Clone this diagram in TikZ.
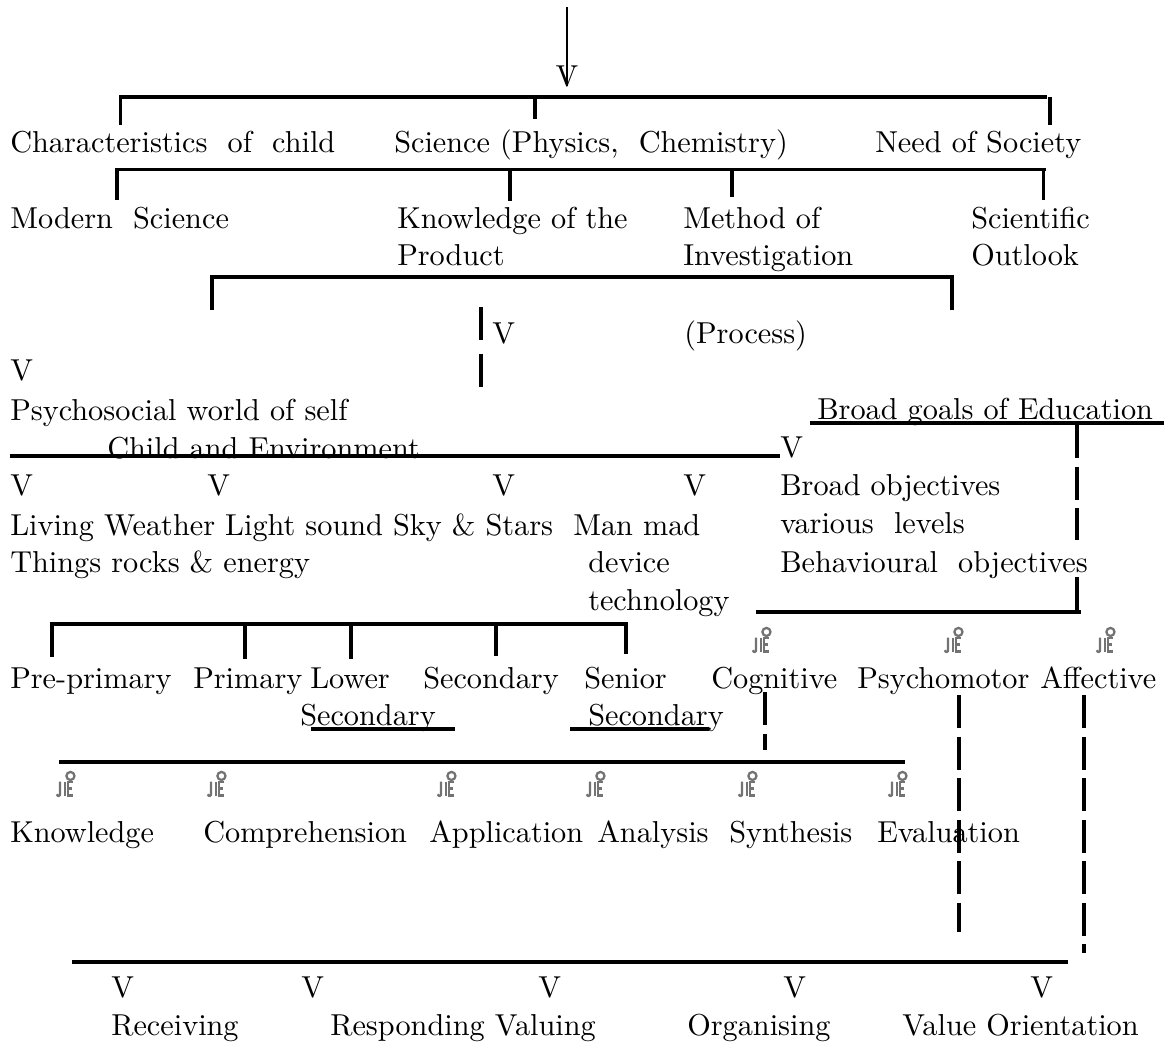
\documentclass[tikz,border=0pt]{standalone}
\usepackage{fontspec}
\setmainfont{lmroman10-regular.otf}
\begin{document}
\begin{tikzpicture}[x=0.75pt,y=-0.75pt,
  t/.style={anchor=base west, inner sep=0pt, font=\fontsize{22.7}{27}\selectfont},
  ln/.style={line width=2.4pt},
  dsh/.style={line width=2.4pt, dash pattern=on 24.75pt off 6.4pt},
  pics/gicon/.style={code={
    \begin{scope}[draw=black!55, line width=1.7pt, scale=1.15]
      \draw (-6,-2) -- (-6,8) .. controls (-6,11) and (-8,11) .. (-9,9);
      \draw (-2,-2) -- (-2,10);
      \draw (5,-2) -- (1,-2) -- (1,10) -- (5,10);
      \draw (1,4) -- (4,4);
      \draw (3,-7) circle (3.5);
    \end{scope}}}]
\fill[white] (0,0) rectangle (1164,1042);
\useasboundingbox (0,0) rectangle (1164,1042);

% top arrow
\node[t,anchor=base] (topV) at (567,86) {V};
\coordinate (topS) at (567,7);
\draw[line width=1.7pt] (topS) -- (topV.base);

% row 1
\node[t] (chr) at (10,152) {Characteristics\ \ of\ \ child};
\node[t] (sci) at (394,152) {Science (Physics,\ \ Chemistry)};
\node[t] (need) at (875,152) {Need of Society};
\draw[ln] (120.5,125) -- (120.5,97) -- (1047,97);
\draw[ln] (535,97) -- (535,119);
\draw[ln] (1050,97) -- (1050,125);

% row 2
\node[t] (mod) at (10,228) {Modern\ \ Science};
\node[t] (kn1) at (397,228) {Knowledge of the};
\node[t] (kn2) at (397,265) {Product};
\node[t] (me1) at (683,228) {Method of};
\node[t] (me2) at (683,265) {Investigation};
\node[t] (so1) at (971,228) {Scientific};
\node[t] (so2) at (971,265) {Outlook};
\draw[ln] (117,200) -- (117,169.5) -- (1046,169.5);
\draw[ln] (510,169.5) -- (510,201);
\draw[ln] (732,169.5) -- (732,197);
\draw[ln] (1043.5,169.5) -- (1043.5,200);

% bracket 3
\draw[ln] (212,310) -- (212,277) -- (952,277) -- (952,310);
\draw[ln] (481,307) -- (481,340);
\draw[ln] (481,354) -- (481,387);
\node[t] (vmid) at (492,343) {V};
\node[t] (proc) at (684,343) {(Process)};

\node[t] (vleft) at (10,380) {V};
\node[t] (psy) at (10,420) {Psychosocial world of self};
\node[t] (bg) at (817,419) {Broad goals of Education};
\node[t] (chenv) at (107,458) {Child and Environment};
\node[t] (vbo) at (780,457) {V};
\coordinate (cel) at (10,456);
\draw[ln] (cel) -- (cel -| vbo.west);
\draw[ln] (810,423) -- (1164,423);

\node[t] (v1) at (10,495) {V};
\node[t] (v2) at (207,495) {V};
\node[t] (v3) at (492,495) {V};
\node[t] (v4) at (683,495) {V};
\node[t] (bo1) at (780,495) {Broad objectives};
\node[t] (bo2) at (780,533) {various\ \ levels};
\node[t] (bo3) at (780,572) {Behavioural\ \ objectives};

\node[t] (liv) at (10,535) {Living Weather Light sound Sky \& Stars};
\node[t] (man1) at (573,535) {Man mad};
\node[t] (thg) at (10,572) {Things rocks \& energy};
\node[t] (man2) at (588,572) {device};
\node[t] (man3) at (588,610) {technology};

\draw[dsh] (1077,425) -- (1077,540);
\draw[ln] (1077,577) -- (1077,612);
\draw[ln] (756,612) -- (1081,612);

% bracket 4
\draw[ln] (52,657) -- (52,624) -- (626,624) -- (626,654);
\draw[ln] (245,624) -- (245,659);
\draw[ln] (351,624) -- (351,659);
\draw[ln] (496,624) -- (496,656);

\pic at (763,640) {gicon};
\pic at (955,640) {gicon};
\pic at (1107,640) {gicon};

\node[t] (pre) at (10,688) {Pre-primary};
\node[t] (pri) at (193,688) {Primary};
\node[t] (low) at (310,688) {Lower};
\node[t] (sec) at (423,688) {Secondary};
\node[t] (sen) at (584,688) {Senior};
\node[t] (cog) at (711,688) {Cognitive};
\node[t] (psm) at (857,688) {Psychomotor};
\node[t] (aff) at (1040,688) {Affective};
\node[t] (lsec) at (300,725) {Secondary};
\node[t] (ssec) at (588,725) {Secondary};
\draw[ln] (311,729) -- (455,729);
\draw[ln] (570,729) -- (709,729);

\draw[dsh] (765,692) -- (765,750);
\draw[dsh] (959,695) -- (959,932);
\draw[dsh] (1084,695) -- (1084,953);

% bracket 5
\draw[ln] (59,762) -- (905,762);
\pic at (67,784) {gicon};
\pic at (218,784) {gicon};
\pic at (448,784) {gicon};
\pic at (597,784) {gicon};
\pic at (749,784) {gicon};
\pic at (899,784) {gicon};

\node[t] (kno) at (10,842) {Knowledge};
\node[t] (com) at (203,842) {Comprehension};
\node[t] (app) at (429,842) {Application};
\node[t] (ana) at (597,842) {Analysis};
\node[t] (syn) at (729,842) {Synthesis};
\node[t] (eva) at (877,842) {Evaluation};

% bottom
\draw[ln] (72,962) -- (1068,962);
\node[t] (b1) at (111,997) {V};
\node[t] (b2) at (301,997) {V};
\node[t] (b3) at (538,997) {V};
\node[t] (b4) at (783,997) {V};
\node[t] (b5) at (1030,997) {V};
\node[t] (rec) at (111,1035) {Receiving};
\node[t] (res) at (330,1035) {Responding Valuing};
\node[t] (org) at (687,1035) {Organising};
\node[t] (vor) at (902,1035) {Value Orientation};
\end{tikzpicture}
\end{document}
